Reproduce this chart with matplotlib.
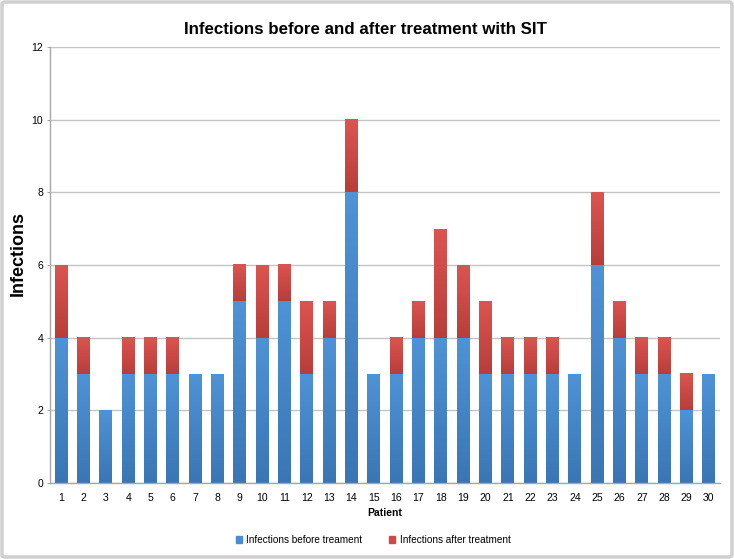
import matplotlib
matplotlib.use("Agg")
import matplotlib.pyplot as plt
import numpy as np
from matplotlib.colors import LinearSegmentedColormap
from matplotlib.patches import FancyBboxPatch, Rectangle

plt.rcParams['font.family'] = ['Liberation Sans', 'DejaVu Sans']

patients = [str(i) for i in range(1, 31)]
before = [4, 3, 2, 3, 3, 3, 3, 3, 5, 4, 5, 3, 4, 8, 3, 3, 4, 4, 4, 3, 3, 3, 3, 3, 6, 4, 3, 3, 2, 3]
after = [2, 1, 0, 1, 1, 1, 0, 0, 1, 2, 1, 2, 1, 2, 0, 1, 1, 3, 2, 2, 1, 1, 1, 0, 2, 1, 1, 1, 1, 0]
yticks = [0, 2, 4, 6, 8, 10, 12]

blue_cmap = LinearSegmentedColormap.from_list('b', ['#3a76b4', '#4e93d6'])
red_cmap = LinearSegmentedColormap.from_list('r', ['#b83e3a', '#dc5450'])

fig = plt.figure(figsize=(7.34, 5.59), dpi=100)
ax = fig.add_axes([50/734, 76/559, 670/734, 436/559])

x = np.arange(1, 31)
b1 = ax.bar(x, before, width=0.57, color='#4a8cd0', zorder=2, label='Infections before treament')
b2 = ax.bar(x, after, width=0.57, bottom=before, color='#d04a45', zorder=2, label='Infections after treatment')

grad = np.linspace(0, 1, 64).reshape(-1, 1)
for bars, cmap in ((b1, blue_cmap), (b2, red_cmap)):
    for r in bars:
        if r.get_height() <= 0:
            continue
        x0, y0, w, h = r.get_x(), r.get_y(), r.get_width(), r.get_height()
        ax.imshow(grad, extent=[x0, x0 + w, y0, y0 + h], origin='lower',
                  aspect='auto', cmap=cmap, zorder=2.5, interpolation='bilinear')

ax.set_xlim(0.5, 30.5)
ax.set_ylim(0, 12)
ax.set_yticks(yticks)
ax.set_xticks(x)
ax.set_xticklabels(patients)
ax.yaxis.grid(True, color='#c4c4c4', linewidth=1.0, zorder=0)
ax.set_axisbelow(True)
for s in ('top', 'right'):
    ax.spines[s].set_visible(False)
for s in ('left', 'bottom'):
    ax.spines[s].set_color('#a8a8a8')
    ax.spines[s].set_linewidth(1.0)
ax.tick_params(axis='x', length=0, pad=7, labelsize=7.5)
ax.tick_params(axis='y', length=2, color='#a8a8a8', pad=3, labelsize=7.5)

ax.set_xlabel('Patient', fontsize=7.5, fontweight='bold', labelpad=4)
fig.text(18.5/734, 1 - 254/559, 'Infections', rotation=90, ha='center', va='center',
         fontsize=13, fontweight='bold')
fig.text(0.5 * (183 + 548) / 734, 1 - 30/559, 'Infections before and after treatment with SIT',
         ha='center', va='center', fontsize=12.2, fontweight='bold')

h1 = Rectangle((0, 0), 1, 1, color='#4a8cd0')
h2 = Rectangle((0, 0), 1, 1, color='#d04a45')
fig.legend([h1, h2], ['Infections before treament', 'Infections after treatment'],
           loc='center', bbox_to_anchor=(0.5 * (243 + 503) / 734, 1 - 540/559), ncol=2, frameon=False,
           fontsize=7.2, handlelength=0.6, handleheight=0.6, handletextpad=0.5,
           columnspacing=2.6)

border = FancyBboxPatch((2/734, 2/559), 730/734, 555/559, boxstyle='round,pad=0,rounding_size=0.004',
                        transform=fig.transFigure, facecolor='none', edgecolor='#d0d0d0',
                        linewidth=2.5, zorder=10)
fig.patches.append(border)

fig.savefig('out.png', dpi=100)
